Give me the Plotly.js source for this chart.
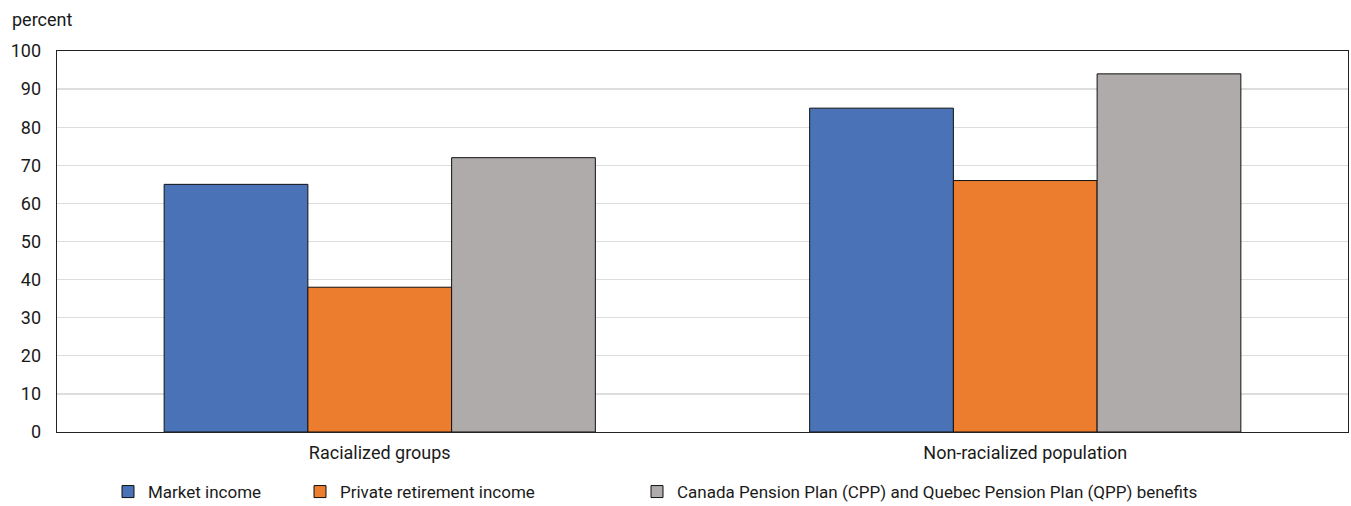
<!DOCTYPE html>
<html>
<head>
<meta charset="utf-8">
<script src="https://cdn.plot.ly/plotly-3.0.1.min.js"></script>
<style>html,body{margin:0;padding:0;background:#fff;}#chart{width:1351px;height:506px;}</style>
</head>
<body>
<div id="chart"></div>
<script>
const categories = ["Racialized groups", "Non-racialized population"];
const seriesNames = ["Market income", "Private retirement income", "Canada Pension Plan (CPP) and Quebec Pension Plan (QPP) benefits"];
const marketIncome = [65, 85];
const privateRetirement = [38, 66];
const cppQpp = [72, 94];
const yTicks = [0, 10, 20, 30, 40, 50, 60, 70, 80, 90, 100];

const FONT = "Roboto, 'Liberation Sans', sans-serif";
const FS = 18;
const colors = ["#4a72b6", "#ec7d2e", "#afabaa"];
const values = [marketIncome, privateRetirement, cppQpp];
const legendNames = ["legend", "legend2", "legend3"];

const traces = values.map((v, i) => ({
  type: "bar",
  name: seriesNames[i],
  x: categories,
  y: v,
  marker: {color: colors[i], line: {color: "#111", width: 1}},
  legend: legendNames[i],
  hoverinfo: "skip"
}));

function legendAt(xpx) {
  return {
    xref: "container", yref: "container",
    x: xpx / 1351, y: 1 - 474 / 506,
    xanchor: "left", yanchor: "top",
    orientation: "h",
    bgcolor: "rgba(0,0,0,0)",
    borderwidth: 0,
    itemwidth: 30,
    font: {family: FONT, size: 17, color: "#1a1a1a"}
  };
}

const layout = {
  width: 1351, height: 506,
  margin: {l: 57, r: 3, t: 51, b: 74},
  paper_bgcolor: "#fff", plot_bgcolor: "#fff",
  font: {family: FONT, size: FS, color: "#1a1a1a"},
  barmode: "group",
  bargap: 0.332,
  bargroupgap: 0,
  showlegend: true,
  legend: legendAt(108),
  legend2: legendAt(300),
  legend3: legendAt(637),
  xaxis: {
    type: "category",
    showline: true, linecolor: "#222", linewidth: 1.3, mirror: true,
    showgrid: false, ticks: "",
    tickfont: {family: FONT, size: FS, color: "#1a1a1a"},
    ticklabelstandoff: 4
  },
  yaxis: {
    range: [0, 100],
    tickvals: yTicks,
    showline: true, linecolor: "#222", linewidth: 1.3, mirror: true,
    showgrid: true, gridcolor: "#dddddd", gridwidth: 1.3,
    zeroline: false, ticks: "",
    tickfont: {family: FONT, size: FS, color: "#1a1a1a"},
    ticklabelstandoff: 11
  },
  annotations: [{
    text: "percent", xref: "paper", yref: "paper",
    x: (10 - 57) / 1291, y: 1 + (51 - 19) / 381, xanchor: "left", yanchor: "middle",
    showarrow: false, font: {family: FONT, size: FS, color: "#1a1a1a"}
  }]
};

Plotly.newPlot("chart", traces, layout, {displayModeBar: false, staticPlot: true});
</script>
</body>
</html>
